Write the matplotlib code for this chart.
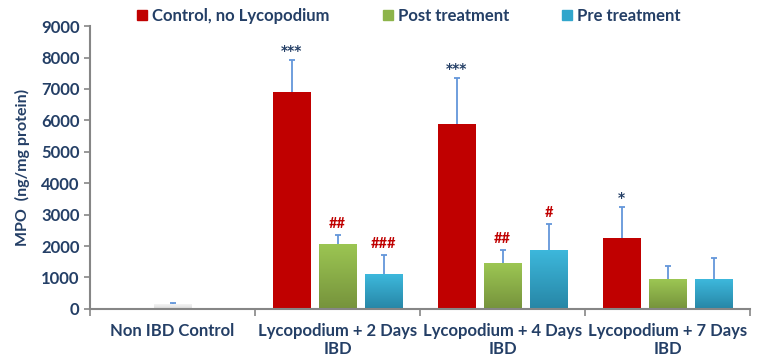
import matplotlib
matplotlib.use("Agg")
import matplotlib.pyplot as plt
import numpy as np
from matplotlib.colors import LinearSegmentedColormap

groups = ["Non IBD Control", "Lycopodium + 2 Days\nIBD",
          "Lycopodium + 4 Days\nIBD", "Lycopodium + 7 Days\nIBD"]
series = ["Control, no Lycopodium", "Post treatment", "Pre treatment"]

# baseline (non IBD) group has one bar only
baseline_mean = 150
baseline_err = 30

control = [6900, 5880, 2260]
control_err = [1020, 1460, 980]
post = [2080, 1460, 950]
post_err = [270, 420, 420]
pre = [1110, 1880, 950]
pre_err = [600, 820, 670]

stars = ["***", "***", "*"]
post_marks = ["##", "##", ""]
pre_marks = ["###", "#", ""]

NAVY = "#243F66"
RED = "#C00000"
ERR = "#6396DA"

plt.rcParams["font.family"] = ["Lato", "DejaVu Sans"]
plt.rcParams["font.weight"] = "bold"

fig = plt.figure(figsize=(7.57, 3.63), dpi=100)
ax = fig.add_axes([0.119, 0.149, 0.872, 0.779])

w = 0.23
off = 0.279


def grad_bar(x, h, top, bottom):
    cmap = LinearSegmentedColormap.from_list("g", [bottom, top])
    bar = ax.bar(x, h, w, color="none", edgecolor="none", zorder=2)[0]
    grad = np.linspace(0, 1, 64).reshape(-1, 1)
    im = ax.imshow(grad, cmap=cmap, origin="lower", aspect="auto",
                   extent=[x - w / 2, x + w / 2, 0, h], zorder=2)
    im.set_clip_path(bar)


def up_err(x, y, e):
    # upper half only, as in the original
    ax.vlines(x, y, y + e, color=ERR, lw=1.3, zorder=3)
    ax.hlines(y + e, x - 0.018, x + 0.018, color=ERR, lw=1.3, zorder=3)


def mark(x, y, s, color, size):
    ax.text(x, y, s, ha="center", va="bottom", color=color, fontsize=size,
            fontweight="bold", family=["DejaVu Sans"] if "*" in s else None)


# non IBD control bar
grad_bar(0.5, baseline_mean, "#F4F4F4", "#DADADA")
up_err(0.5, baseline_mean, baseline_err)

for i in range(3):
    c = 1.5 + i
    ax.bar(c - off, control[i], w, color=RED, zorder=2)
    grad_bar(c, post[i], "#9CC653", "#76933C")
    grad_bar(c + off, pre[i], "#3DB8DC", "#2786A6")
    up_err(c - off, control[i], control_err[i])
    up_err(c, post[i], post_err[i])
    up_err(c + off, pre[i], pre_err[i])
    mark(c - off, control[i] + control_err[i] + 80, stars[i], NAVY, 10)
    if post_marks[i]:
        mark(c, post[i] + post_err[i] + 120, post_marks[i], RED, 10.5)
    if pre_marks[i]:
        mark(c + off, pre[i] + pre_err[i] + 120, pre_marks[i], RED, 10.5)

ax.set_xlim(0, 4)
ax.set_ylim(0, 9000)
ax.set_yticks(np.arange(0, 9001, 1000))
ax.set_xticks([0.5, 1.5, 2.5, 3.5])
ax.set_xticklabels(groups)
ax.set_xticks([0, 1, 2, 3, 4], minor=True)
ax.tick_params(axis="x", which="major", length=0, pad=10, labelsize=12,
               labelcolor=NAVY)
ax.tick_params(axis="x", which="minor", length=5, color="#868686", width=1.2)
ax.tick_params(axis="y", length=4, color="#868686", width=1.2, labelsize=12,
               labelcolor=NAVY)
for lab in ax.get_xticklabels() + ax.get_yticklabels():
    lab.set_fontweight("bold")

ax.set_ylabel("MPO  (ng/mg protein)", color=NAVY, fontsize=11.5,
              fontweight="bold", labelpad=8)

for s in ["top", "right"]:
    ax.spines[s].set_visible(False)
for s in ["left", "bottom"]:
    ax.spines[s].set_color("#868686")
    ax.spines[s].set_linewidth(1.5)

handles = [plt.Rectangle((0, 0), 1, 1, color=c) for c in [RED, "#8DB44A", "#31A6CC"]]
leg = fig.legend(handles, series, loc="upper center", bbox_to_anchor=(0.54, 1.02),
                 ncol=3, frameon=False, handlelength=0.6, handleheight=0.6,
                 handletextpad=0.3, columnspacing=3.2,
                 prop={"weight": "bold", "size": 12})
for t in leg.get_texts():
    t.set_color(NAVY)

fig.savefig("out.png", dpi=100)
